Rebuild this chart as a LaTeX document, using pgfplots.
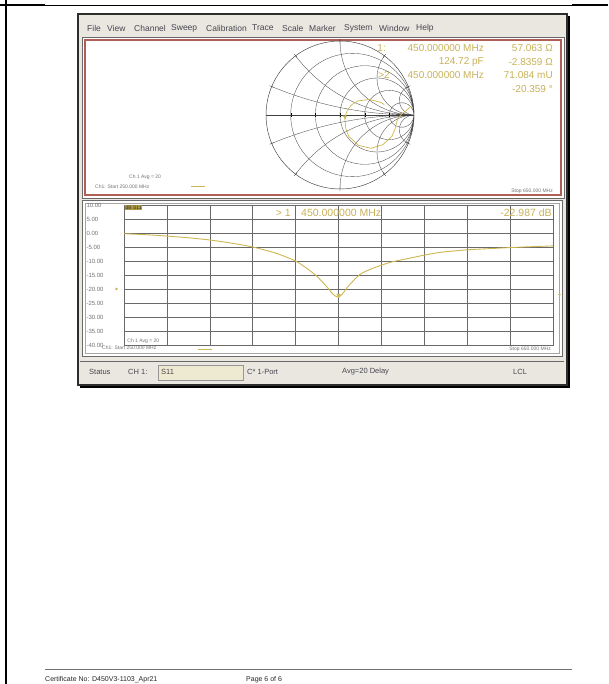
\documentclass[border=0pt]{standalone}
\usepackage{pgfplots}
\pgfplotsset{compat=1.18}
\usepgfplotslibrary{smithchart}
\usepackage{fontspec}
\setmainfont{Liberation Sans}
\definecolor{trace}{RGB}{206,182,80}
\definecolor{mtext}{RGB}{200,178,88}
\definecolor{gridc}{RGB}{105,105,105}
\definecolor{wframe}{RGB}{45,45,45}
\definecolor{panelred}{RGB}{175,95,85}
\definecolor{barbg}{RGB}{234,231,224}
\definecolor{menutext}{RGB}{70,70,80}
\begin{document}
\begin{tikzpicture}
\begin{scope}[x=1pt,y=1pt]
\path[use as bounding box, fill=white] (0,0) rectangle (608,-684);
% page borders
\draw[line width=2.2pt] (6,0) -- (6,-684);
\draw[line width=1.6pt] (0,-5) -- (45,-5);
\draw[line width=0.6pt] (45,-5) -- (572,-5);
\draw[line width=1.6pt] (572,-5) -- (608,-5);
% window
\fill[barbg] (78,-14) rectangle (567,-385);
\draw[wframe, line width=1.6pt] (78,-14) rectangle (567,-385);
\draw[black, line width=1.2pt] (569,-16) -- (569,-387) -- (80,-387);
% menu bar
\begin{scope}[every node/.style={anchor=west, inner sep=0pt, font=\fontsize{8.5}{8.5}\selectfont, text=menutext}]
\node at (87,-28) {File};
\node at (107,-28) {View};
\node at (134,-28) {Channel};
\node at (171,-28) {Sweep};
\node at (206,-28) {Calibration};
\node at (252,-28) {Trace};
\node at (282,-28) {Scale};
\node at (309,-28) {Marker};
\node at (344,-28) {System};
\node at (379,-28) {Window};
\node at (416,-28) {Help};
\end{scope}
% upper panel
\fill[white] (82,-37) rectangle (564,-198);
\draw[gridc, line width=0.6pt] (82,-37) rectangle (564,-198);
\draw[panelred, line width=1.2pt] (85,-40) rectangle (561,-195);
% lower panel
\fill[white] (82,-200) rectangle (562,-356);
\draw[gridc, line width=0.6pt] (82,-200) rectangle (562,-356);
\draw[gridc!60, line width=0.6pt] (85,-203) rectangle (559,-353);
% status bar
\draw[gridc, line width=0.5pt] (80,-361) -- (564,-361);
\fill[yellow!8!barbg] (158,-365) rectangle (243,-380);
\draw[gridc!70, line width=0.4pt] (158,-365) rectangle (243,-380);
\begin{scope}[every node/.style={anchor=west, inner sep=0pt, font=\fontsize{7.5}{7.5}\selectfont, text=menutext}]
\node at (89,-372) {Status};
\node at (128,-372) {CH 1:};
\node at (161,-372) {S11};
\node at (247,-372) {C* 1-Port};
\node at (342,-372) {Avg=20 Delay};
\node at (513,-372) {LCL};
\end{scope}
% marker readout upper
\begin{scope}[every node/.style={inner sep=0pt, font=\fontsize{10}{10}\selectfont, text=mtext}]
\node[anchor=east] at (386,-48) {1:};
\node[anchor=east] at (484,-48) {450.000000 MHz};
\node[anchor=east] at (553,-48) {57.063 Ω};
\node[anchor=east] at (484,-62) {124.72 pF};
\node[anchor=east] at (553,-62) {-2.8359 Ω};
\node[anchor=east] at (390,-75) {>2};
\node[anchor=east] at (484,-75) {450.000000 MHz};
\node[anchor=east] at (553,-75) {71.084 mU};
\node[anchor=east] at (553,-89) {-20.359 °};
\end{scope}
\begin{scope}[every node/.style={inner sep=0pt, font=\fontsize{5}{5}\selectfont, text=black!55}]
\node[anchor=west] at (129,-177) {Ch 1 Avg = 20};
\node[anchor=west] at (95,-187) {Ch1: Start 250.000 MHz};
\node[anchor=east] at (553,-191) {Stop 650.000 MHz};
\node[anchor=west] at (102,-348) {Ch1: Start 250.000 MHz};
\node[anchor=east] at (551,-349) {Stop 650.000 MHz};
\end{scope}
\draw[trace, line width=1pt] (191,-187) -- (205,-187);
\draw[trace, line width=1pt] (198,-349) -- (212,-349);
% footer
\draw[black!55, line width=0.6pt] (45,-669) -- (572,-669);
\node[anchor=west, inner sep=0pt, font=\fontsize{7}{7}\selectfont, text=black!85] at (45,-680) {Certificate No: D450V3-1103\_Apr21};
\node[anchor=west, inner sep=0pt, font=\fontsize{7}{7}\selectfont, text=black!85] at (246,-680) {Page 6 of 6};
\end{scope}
% smith chart
\begin{smithchart}[at={(340pt,-115pt)}, anchor=center, width=148pt, scale only axis,
  xtick={0.2,0.5,1,2,5}, ytick={-5,-2,-1,-0.5,-0.2,0.2,0.5,1,2,5},
  xticklabels={}, yticklabels={},
  grid style={black!70, line width=0.35pt},
  axis line style={black!75, line width=0.45pt}]
\addplot[trace, line width=0.7pt, is smithchart cs] coordinates {
(0.96,0.12) (0.92,0.08) (0.87,0.04) (0.82,0.0) (0.78,-0.05) (0.76,-0.12)
(0.74,-0.2) (0.70,-0.29) (0.58,-0.40) (0.42,-0.45) (0.25,-0.41)
(0.12,-0.29) (0.08,-0.19) (0.07,-0.10) (0.068,-0.045) (0.071,-0.019)
(0.10,0.07) (0.16,0.14) (0.24,0.19) (0.40,0.21) (0.55,0.17) (0.60,0.14)};
\addplot[trace, only marks, mark=triangle*, mark size=2pt, mark options={rotate=180}, is smithchart cs] coordinates {(0.067,-0.025)};
\end{smithchart}
% lower log-mag plot
\begin{axis}[at={(124pt,-205pt)}, anchor=north west, width=429pt, height=140pt, scale only axis,
  xmin=250, xmax=650, ymin=-40, ymax=10,
  xtick={250,290,...,650}, ytick={-40,-35,...,10},
  xticklabels={}, grid=major, grid style={gridc, line width=0.5pt},
  axis line style={gridc, line width=0.5pt}, major tick length=0pt,
  yticklabel style={anchor=west, xshift=-41pt, font=\fontsize{6}{6}\selectfont, text=black!55,
    /pgf/number format/.cd, fixed, fixed zerofill, precision=2, assume math mode=true},
  clip=false]
\addplot[trace, line width=0.9pt, smooth, tension=0.4] coordinates {
(250,-0.25) (270,-0.6) (290,-1.1) (310,-1.7) (330,-2.5) (350,-3.6) (370,-5.0)
(390,-7.0) (400,-8.4) (410,-10.0) (420,-12.5) (430,-15.5) (440,-19.6) (445,-21.9)
(450,-22.987) (455,-21.1) (460,-18.6) (470,-14.8) (480,-12.9) (490,-11.5) (500,-10.3)
(510,-9.5) (520,-8.7) (530,-7.9) (545,-6.9) (570,-6.0) (590,-5.6) (610,-5.2) (630,-4.9) (650,-4.6)};
\addplot[trace, only marks, mark=triangle*, mark size=2pt, mark options={rotate=180}] coordinates {(450,-22.2)};
\addplot[trace, only marks, mark=*, mark size=1pt] coordinates {(243,-20) (656,-22)};
\node[anchor=east, inner sep=0pt, font=\fontsize{10.5}{10.5}\selectfont, text=mtext] at (axis cs:490,7.3) {> 1\quad 450.000000 MHz};
\node[anchor=east, inner sep=0pt, font=\fontsize{10.5}{10.5}\selectfont, text=mtext] at (axis cs:649,7.3) {-22.987 dB};
\node[anchor=north west, fill=trace!85!black, inner sep=0.8pt, font=\fontsize{5}{5}\selectfont, text=black!80] at (axis cs:250.5,10) {dB S11};
\node[anchor=west, inner sep=0pt, font=\fontsize{5}{5}\selectfont, text=black!55] at (axis cs:253,-38.5) {Ch 1 Avg = 20};
\end{axis}
\end{tikzpicture}
\end{document}
